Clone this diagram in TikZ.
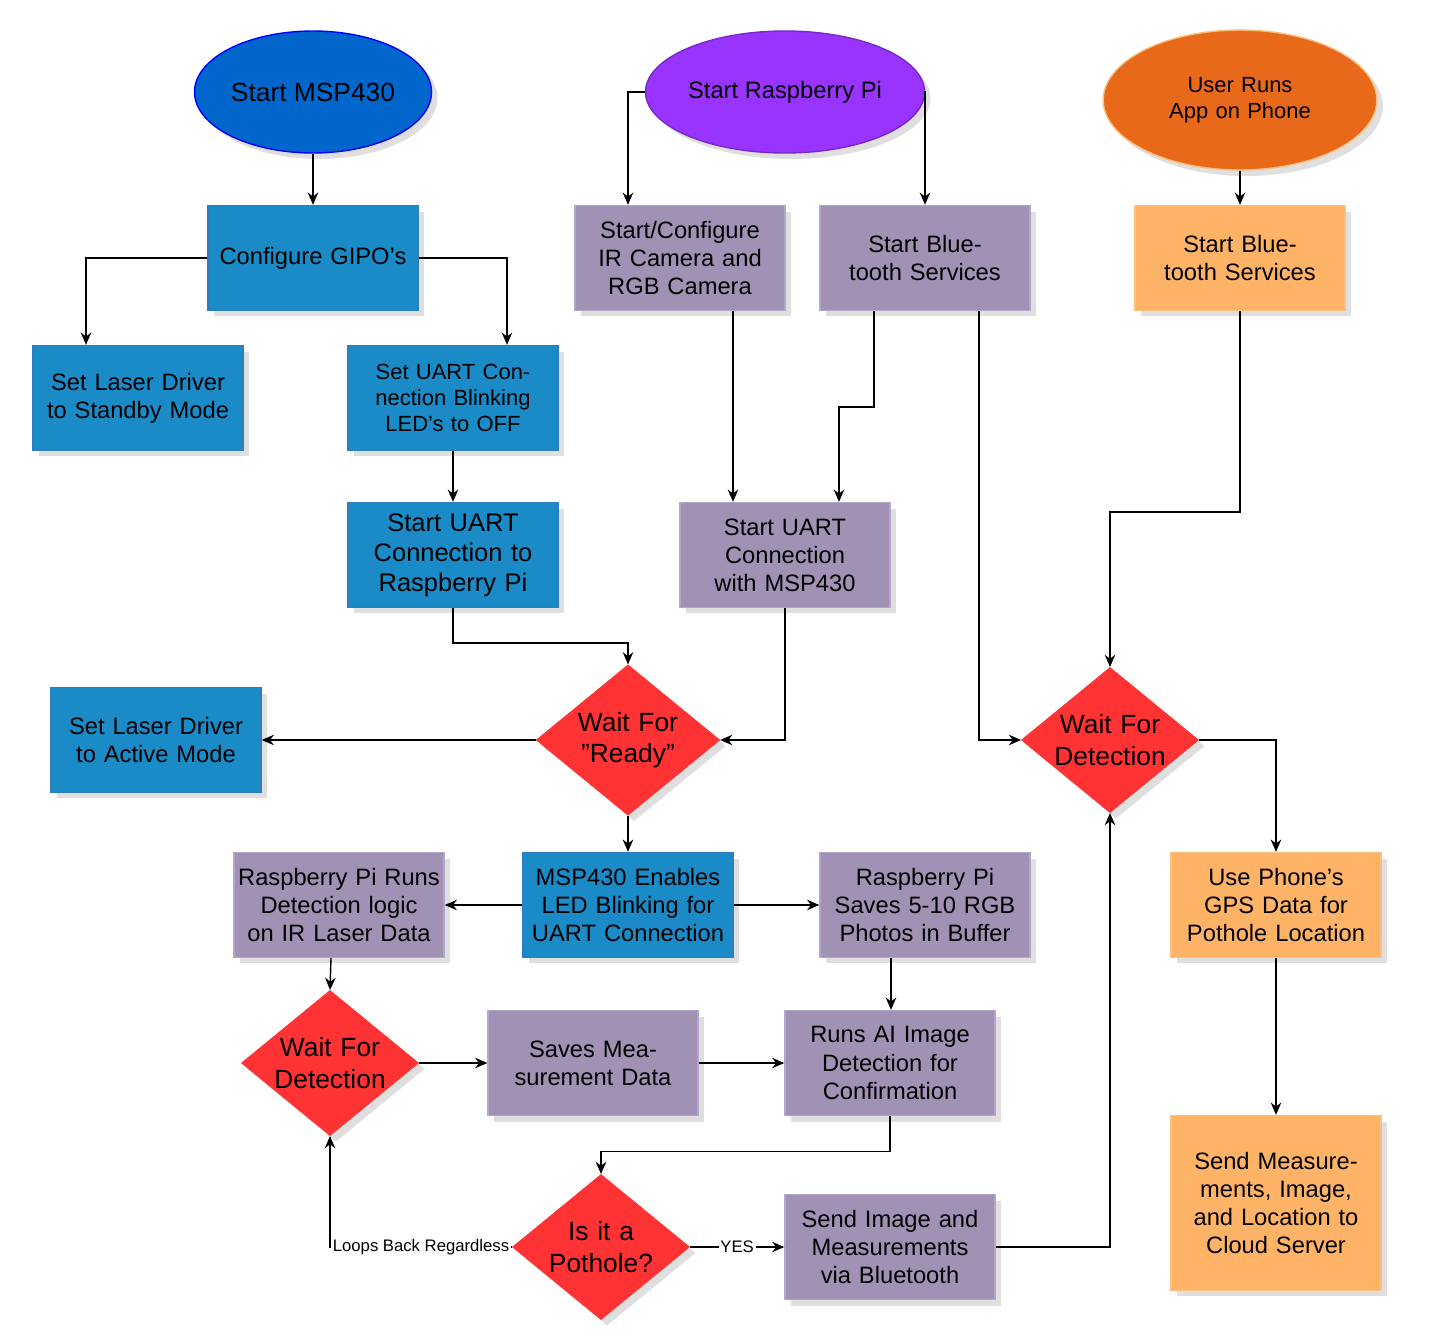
\documentclass[tikz,border=0pt]{standalone}
\usepackage{fontspec}
\setmainfont{Liberation Sans}
\usetikzlibrary{shapes.geometric,calc,shadows,arrows.meta}
\definecolor{bblue}{HTML}{1A8BC6}
\definecolor{bblueb}{HTML}{2E7DC2}
\definecolor{ppl}{HTML}{A191B5}
\definecolor{pplb}{HTML}{B3A6CC}
\definecolor{org}{HTML}{FFB366}
\definecolor{orgb}{HTML}{F9C07F}
\definecolor{rd}{HTML}{FF3333}
\begin{document}
\begin{tikzpicture}[x=0.02cm,y=-0.02cm,
  base/.style={font=\fontsize{13.5}{16}\selectfont,align=center,inner sep=1pt,drop shadow={shadow xshift=0.12cm,shadow yshift=-0.12cm,opacity=0.25}},
  bx/.style={base,rectangle,minimum width=4.2cm,minimum height=2.1cm,text width=4.1cm,line width=0.8pt},
  bl/.style={bx,fill=bblue,draw=bblueb},
  pp/.style={bx,fill=ppl,draw=pplb},
  og/.style={bx,fill=org,draw=orgb},
  dm/.style={base,diamond,aspect=1.22,fill=rd,draw=rd,text width=2.3cm,inner sep=0pt,font=\fontsize{15}{18}\selectfont},
  el/.style={base,ellipse,minimum width=4.2cm,minimum height=2.44cm,line width=0.8pt},
  ar/.style={-{Stealth[length=7pt,width=6pt]},line width=0.8pt}]
\useasboundingbox (0,0) rectangle (1437,1342);
\node[el,fill=blue!60!cyan!60!black,fill={rgb,255:red,0;green,102;blue,204},draw=blue,font=\fontsize{15}{18}\selectfont] (e1) at (313,92) {Start MSP430};
\node[el,fill={rgb,255:red,153;green,51;blue,255},draw={rgb,255:red,120;green,40;blue,200},font=\fontsize{13.5}{16}\selectfont] (e2) at (785,92) {Start Raspberry Pi};
\node[el,fill={rgb,255:red,232;green,105;blue,26},draw=orgb,minimum height=2.8cm,text width=3.8cm,font=\fontsize{12.5}{15}\selectfont] (e3) at (1240,100) {User Runs App on Phone};
\node[bl] (gpio) at (313,258) {Configure GIPO's};
\node[bl] (laser1) at (138,398) {Set Laser Driver to Standby Mode};
\node[bl,font=\fontsize{12.5}{15}\selectfont] (uartled) at (453,398) {Set UART Connection Blinking LED's to OFF};
\node[bl,font=\fontsize{14.5}{17}\selectfont] (startuart) at (453,555) {Start UART Connection to Raspberry Pi};
\node[bl] (laser2) at (156,740) {Set Laser Driver to Active Mode};
\node[pp] (ir) at (680,258) {Start/Configure IR Camera and RGB Camera};
\node[pp] (btrpi) at (925,258) {Start Bluetooth Services};
\node[og] (btphone) at (1240,258) {Start Bluetooth Services};
\node[pp] (uartrpi) at (785,555) {Start UART Connection with MSP430};
\node[dm] (ready) at (628,740) {Wait For "Ready"};
\node[bl] (msp) at (628,905) {MSP430 Enables LED Blinking for UART Connection};
\node[pp] (rpirun) at (339,905) {Raspberry Pi Runs Detection logic on IR Laser Data};
\node[pp] (saves510) at (925,905) {Raspberry Pi Saves 5-10 RGB Photos in Buffer};
\node[dm] (detect1) at (330,1063) {Wait For Detection};
\node[pp] (savemeas) at (593,1063) {Saves Measurement Data};
\node[pp] (runai) at (890,1063) {Runs AI Image Detection for Confirmation};
\node[dm] (pothole) at (601,1247) {Is it a Pothole?};
\node[pp] (sendimg) at (890,1247) {Send Image and Measurements via Bluetooth};
\node[dm] (detect2) at (1110,740) {Wait For Detection};
\node[og] (gps) at (1276,905) {Use Phone's GPS Data for Pothole Location};
\node[og,minimum height=3.5cm] (cloud) at (1276,1203) {Send Measurements, Image, and Location to Cloud Server};

\draw[ar] (e1) -- (gpio);
\draw[ar] (gpio.west) -| ($(laser1.north)+(-52,0)$);
\draw[ar] (gpio.east) -| ($(uartled.north)+(54,0)$);
\draw[ar] (uartled) -- (startuart);
\draw[ar] (startuart.south) -- ++(0,35) -| (ready.north);
\draw[ar] (ready.west) -- (laser2.east);
\draw[ar] (uartrpi.south) |- (ready.east);
\draw[ar] (e2.west) -| ($(ir.north)+(-52,0)$);
\draw[ar] (e2.east) -| (btrpi.north);
\draw[ar] ($(ir.south)+(53,0)$) -- ($(uartrpi.north)+(-52,0)$);
\draw[ar] ($(btrpi.south)+(-51,0)$) -- ++(0,96) -| ($(uartrpi.north)+(54,0)$);
\draw[ar] ($(btrpi.south)+(54,0)$) |- (detect2.west);
\draw[ar] (e3) -- (btphone);
\draw[ar] (btphone.south) -- ++(0,201) -| (detect2.north);
\draw[ar] (detect2.east) -| (gps.north);
\draw[ar] (gps) -- (cloud);
\draw[ar] (ready) -- (msp);
\draw[ar] (msp) -- (rpirun);
\draw[ar] (msp) -- (saves510);
\draw[ar] ($(rpirun.south)+(-8,0)$) -- (detect1.north);
\draw[ar] (detect1) -- (savemeas);
\draw[ar] (savemeas) -- (runai);
\draw[ar] ($(saves510.south)+(-34,0)$) -- ($(runai.north)+(1,0)$);
\draw[ar] (runai.south) -- ++(0,35) -| (pothole.north);
\draw[ar] (pothole.west) -| node[pos=0.25,fill=white,inner sep=1pt,font=\fontsize{9.5}{11}\selectfont]{Loops Back Regardless} (detect1.south);
\draw[ar] (pothole.east) -- node[fill=white,inner sep=1pt,font=\fontsize{9.5}{11}\selectfont]{YES} (sendimg.west);
\draw[ar] (sendimg.east) -| (detect2.south);
\end{tikzpicture}
\end{document}
